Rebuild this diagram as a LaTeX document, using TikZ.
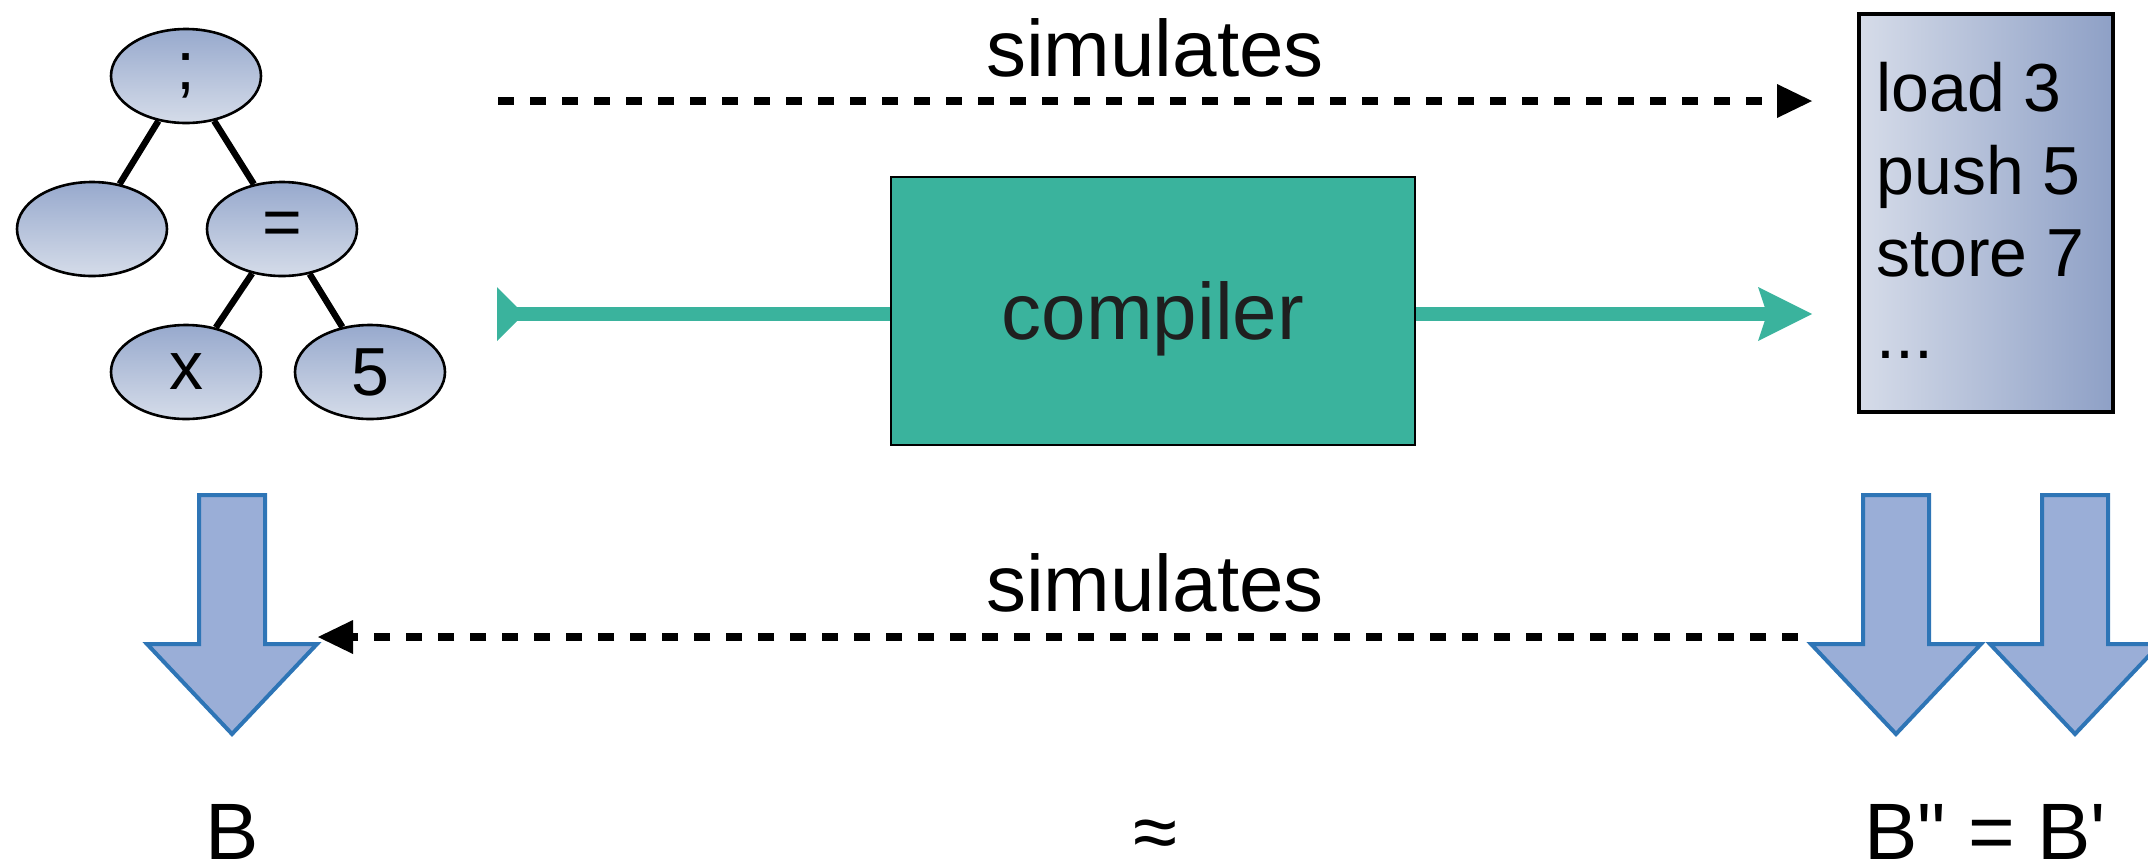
\documentclass[tikz,border=0pt]{standalone}
\usepackage{fontspec}
\setmainfont{Liberation Sans}
% straight quote marks for the primed labels
\newfontfamily\rawsans{Liberation Sans}[Ligatures=TeXOff]
\usetikzlibrary{arrows.meta,shapes.geometric}

\definecolor{compteal}{RGB}{58,179,157}
\definecolor{asttop}{RGB}{151,169,205}
\definecolor{astbot}{RGB}{213,220,233}
\definecolor{codeleft}{RGB}{214,220,233}
\definecolor{coderight}{RGB}{142,160,198}
\definecolor{blkfill}{RGB}{154,174,215}
\definecolor{blkstroke}{RGB}{46,117,182}

\tikzset{
  downarrow/.pic={
    \draw[blockarrow] (-33,0) -- (33,0) -- (33,149) -- (85,149) -- (0,239)
      -- (-85,149) -- (-33,149) -- cycle;
  }
}

\begin{document}
\begin{tikzpicture}[x=0.5pt,y=-0.5pt,
  treenode/.style={ellipse, draw=black, line width=1.3pt,
    top color=asttop, bottom color=astbot,
    minimum width=75pt, minimum height=47pt, inner sep=0pt,
    font=\fontsize{34}{40}\selectfont},
  treeedge/.style={line width=3.2pt, black},
  simarrow/.style={line width=4pt, dash pattern=on 8pt off 8pt,
    -{Triangle[length=17.5pt,width=17pt,line width=0pt]}},
  bigtext/.style={font=\fontsize{40}{48}\selectfont, inner sep=0pt},
  blockarrow/.style={draw=blkstroke, fill=blkfill, line width=2pt, line join=miter},
  flow/.style={compteal, line width=7pt},
]
\useasboundingbox (0,0) rectangle (2148,863);
\clip (0,0) rectangle (2148,863);

% abstract syntax tree
\node[treenode] (root) at (186,76)  {;};
\node[treenode] (lft)  at (92,229)  {};
\node[treenode] (eq)   at (282,229) {=};
\node[treenode] (nx)   at (186,372) {x};
\node[treenode] (n5)   at (370,372) {5};
\draw[treeedge] (root) -- (lft);
\draw[treeedge] (root) -- (eq);
\draw[treeedge] (eq) -- (nx);
\draw[treeedge] (eq) -- (n5);

% compiler
\node[draw=black, line width=1.2pt, fill=compteal, minimum width=262pt,
  minimum height=134pt, text depth=0pt, bigtext, text=black!88] (comp) at (1153,311) {compiler};

% target code
\node[draw=black, line width=1.8pt, left color=codeleft, right color=coderight,
  minimum width=127pt, minimum height=199pt, inner sep=0pt] (code) at (1986,213) {};
\node[anchor=north west, inner sep=0pt, align=left,
  font=\fontsize{34}{41.2}\selectfont] (codetxt) at (1876,62)
  {load 3\\push 5\\store 7\\...};

% compilation flow
\coordinate (tailpt) at (497,314);
\coordinate (headpt) at (1812,314);
\draw[flow] (comp.west |- tailpt) -- ([xshift=10pt]tailpt);
\fill[compteal] (tailpt) ++(0,-27) -- ++(20,20) -- ++(0,14) -- ++(-20,20) -- cycle;
\draw[flow, -{Stealth[length=27pt,width=27pt,inset=4.5pt,line width=0pt]}]
  (comp.east |- headpt) -- (headpt);

% simulation relations
\coordinate (simTopA) at (498,101);
\coordinate (simTopB) at (1812,101);
\draw[simarrow] (simTopA) -- (simTopB);
\node[bigtext, anchor=base] (simTop) at (1155,76) {simulates};

\coordinate (simBotA) at (1798,637);
\coordinate (simBotB) at (318,637);
\draw[simarrow] (simBotA) -- (simBotB);
\node[bigtext, anchor=base] (simBot) at (1155,611) {simulates};

% behaviours
\pic at (232,495) {downarrow};
\pic at (1896,495) {downarrow};
\pic at (2075,495) {downarrow};

\node[bigtext, anchor=base] (behB)  at (232,859)  {B};
\node[bigtext, anchor=base] (approx) at (1155,859) {≈};
\node[bigtext, anchor=base] (behBB) at (1985,859) {\rawsans B" = B'};
\end{tikzpicture}
\end{document}
